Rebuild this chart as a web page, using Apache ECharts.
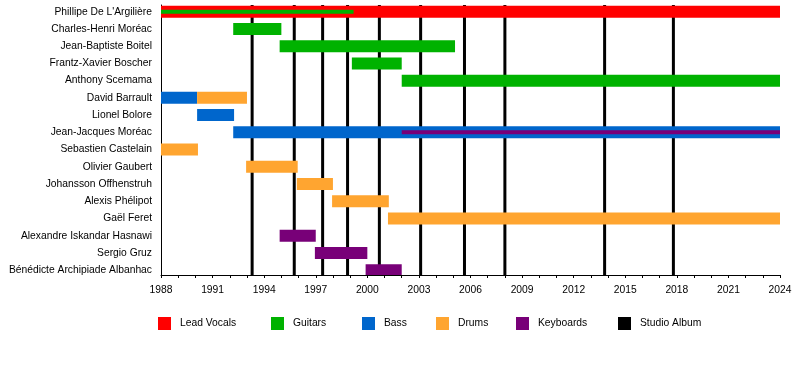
<!DOCTYPE html>
<html>
<head>
<meta charset="utf-8">
<script src="https://cdn.jsdelivr.net/npm/echarts@6/dist/echarts.min.js"></script>
<style>html,body{margin:0;padding:0;background:#fff}#c{width:800px;height:365px}</style>
</head>
<body>
<div id="c"></div>
<script>
const members = ["Phillipe De L'Argilière","Charles-Henri Moréac","Jean-Baptiste Boitel","Frantz-Xavier Boscher","Anthony Scemama","David Barrault","Lionel Bolore","Jean-Jacques Moréac","Sebastien Castelain","Olivier Gaubert","Johansson Offhenstruh","Alexis Phélipot","Gaël Feret","Alexandre Iskandar Hasnawi","Sergio Gruz","Bénédicte Archipiade Albanhac"];
const leadVocals = [[0, 1988, 2024]];
const guitars = [[1, 1992.2, 1995.0],[2, 1994.9, 2005.1],[3, 1999.1, 2002.0],[4, 2002.0, 2024]];
const guitarsSecondary = [[0, 1988, 1999.2]];
const bass = [[5, 1988, 1990.1],[6, 1990.1, 1992.25],[7, 1992.2, 2024]];
const drums = [[5, 1990.1, 1993.0],[8, 1988, 1990.15],[9, 1992.95, 1995.95],[10, 1995.9, 1998.0],[11, 1997.95, 2001.25],[12, 2001.2, 2024]];
const keyboards = [[13, 1994.9, 1997.0],[14, 1996.95, 2000.0],[15, 1999.9, 2002.0]];
const keyboardsSecondary = [[7, 2002.0, 2024]];
const studioAlbums = [1993.3, 1995.75, 1997.4, 1998.85, 2000.7, 2003.1, 2005.65, 2008.0, 2013.8, 2017.8];

const colors = {
  'Lead Vocals':'#FF0000','Guitars':'#00B200','Bass':'#0066CC',
  'Drums':'#FFA530','Keyboards':'#780078','Studio Album':'#000000'
};
const FONT = '"Liberation Sans", Arial, sans-serif';
const FS = 10.3;

function barSeries(name, data, h, z){
  return {
    type:'custom', name, data, z, clip:true,
    itemStyle:{color:colors[name], borderWidth:0},
    encode:{x:[1,2], y:0},
    renderItem:function(params, api){
      const p1 = api.coord([api.value(1), api.value(0)]);
      const p2 = api.coord([api.value(2), api.value(0)]);
      return {type:'rect', shape:{x:p1[0], y:p1[1]-h/2, width:p2[0]-p1[0], height:h},
        style:{fill:colors[name]}};
    }
  };
}

const albumSeries = {
  type:'custom', name:'Studio Album', z:1,
  itemStyle:{color:colors['Studio Album']},
  data: studioAlbums.map(v=>[v]),
  encode:{x:0},
  renderItem:function(params, api){
    const cs = params.coordSys;
    const x = api.coord([api.value(0), 0])[0];
    return {type:'line', shape:{x1:x, y1:cs.y, x2:x, y2:cs.y+cs.height},
      style:{stroke:'#000', lineWidth:3}};
  }
};

const legendNames = ['Lead Vocals','Guitars','Bass','Drums','Keyboards','Studio Album'];
const legendLeft = [158, 271, 362, 436, 516, 618];
const legends = legendNames.map((n,i)=>({
  data:[n], left:legendLeft[i], top:317, padding:0, itemWidth:13, itemHeight:13, icon:'rect',
  selectedMode:false,
  textStyle:{fontFamily:FONT, fontSize:FS, color:'#000', padding:[0,0,0,4]}
}));

const chart = echarts.init(document.getElementById('c'), null, {renderer:'canvas'});
chart.setOption({
  animation:false,
  backgroundColor:'#fff',
  grid:{left:161, right:20, top:5, bottom:90, outerBoundsMode:'none', containLabel:false},
  legend: legends,
  xAxis:{
    type:'value', min:1988, max:2024, interval:3, position:'bottom',
    axisLine:{show:true, onZero:false, lineStyle:{color:'#000', width:1}},
    axisTick:{show:true, length:3, lineStyle:{color:'#000', width:1}},
    minorTick:{show:true, splitNumber:3, length:3, lineStyle:{color:'#000', width:1}},
    splitLine:{show:false},
    axisLabel:{fontFamily:FONT, fontSize:FS, color:'#000', margin:10,
      formatter:function(v){return String(v);}}
  },
  yAxis:{
    type:'value', inverse:true, min:-0.389, max:15.278, position:'left',
    axisLine:{show:true, onZero:false, lineStyle:{color:'#000', width:1}},
    axisTick:{show:false},
    splitLine:{show:false},
    axisLabel:{fontFamily:FONT, fontSize:FS, color:'#000', margin:9,
      customValues: members.map((m,i)=>i),
      formatter:function(v){return members[Math.round(v)];}}
  },
  series:[
    albumSeries,
    barSeries('Lead Vocals', leadVocals, 12, 2),
    barSeries('Guitars', guitars, 12, 2),
    barSeries('Bass', bass, 12, 2),
    barSeries('Drums', drums, 12, 2),
    barSeries('Keyboards', keyboards, 12, 2),
    barSeries('Guitars', guitarsSecondary, 4, 3),
    barSeries('Keyboards', keyboardsSecondary, 4, 3)
  ]
});
</script>
</body>
</html>
